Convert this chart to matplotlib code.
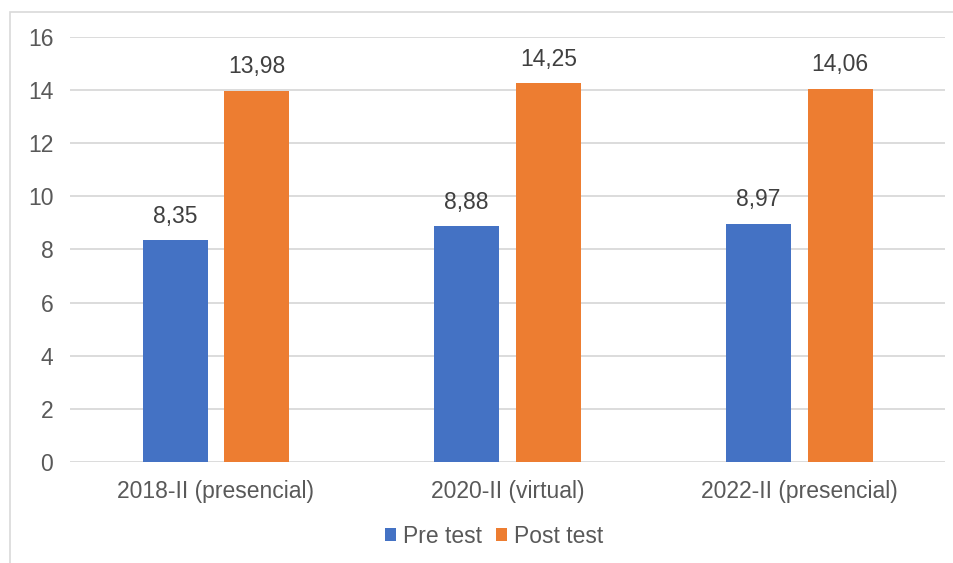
import numpy as np
import matplotlib.pyplot as plt
from matplotlib.patches import Rectangle

plt.rcParams['font.family'] = ['Liberation Sans', 'DejaVu Sans']

periodos = ['2018-II (presencial)', '2020-II (virtual)', '2022-II (presencial)']
pre_test = [8.35, 8.88, 8.97]
post_test = [13.98, 14.25, 14.06]
series = ['Pre test', 'Post test']

azul = '#4472C4'
naranja = '#ED7D31'
gris_txt = '#595959'
fs = 16.5

fig = plt.figure(figsize=(9.54, 5.63), dpi=100)
ax = fig.add_axes([0.0734, 0.1794, 0.9172, 0.7549])

x = np.arange(len(periodos))
w = 0.223
off = 0.14
b1 = ax.bar(x - off, pre_test, w, color=azul, label=series[0], zorder=3)
b2 = ax.bar(x + off, post_test, w, color=naranja, label=series[1], zorder=3)

for barras, vals in ((b1, pre_test), (b2, post_test)):
    for r, v in zip(barras, vals):
        ax.annotate(f'{v:.2f}'.replace('.', ','),
                    (r.get_x() + r.get_width() / 2, v),
                    xytext=(0, 9), textcoords='offset points',
                    ha='center', va='bottom', fontsize=fs, color='#404040')

ax.set_xlim(-0.5, 2.5)
ax.set_ylim(0, 16)
ax.set_yticks(range(0, 17, 2))
ax.set_xticks(x)
ax.set_xticklabels(periodos)
ax.grid(axis='y', color='#d9d9d9', linewidth=1.3, zorder=0)
for s in ax.spines.values():
    s.set_visible(False)
ax.tick_params(axis='both', length=0, labelsize=fs, colors=gris_txt)
ax.tick_params(axis='y', pad=12)
ax.tick_params(axis='x', pad=13)

leg = fig.legend(handles=[b1, b2], labels=series, loc='center',
                 bbox_to_anchor=(0.518, 0.047), ncol=2, frameon=False,
                 fontsize=16.5, handlelength=0.5, handleheight=0.5,
                 handletextpad=0.3, columnspacing=0.6)
for t in leg.get_texts():
    t.set_color(gris_txt)

# marco del área del gráfico
fig.patches.append(Rectangle((10 / 954, -0.05), 1.0, 1 - 12 / 563 + 0.05,
                             transform=fig.transFigure, fill=False,
                             edgecolor='#d9d9d9', linewidth=1.2))

fig.savefig('out.png', dpi=100)
